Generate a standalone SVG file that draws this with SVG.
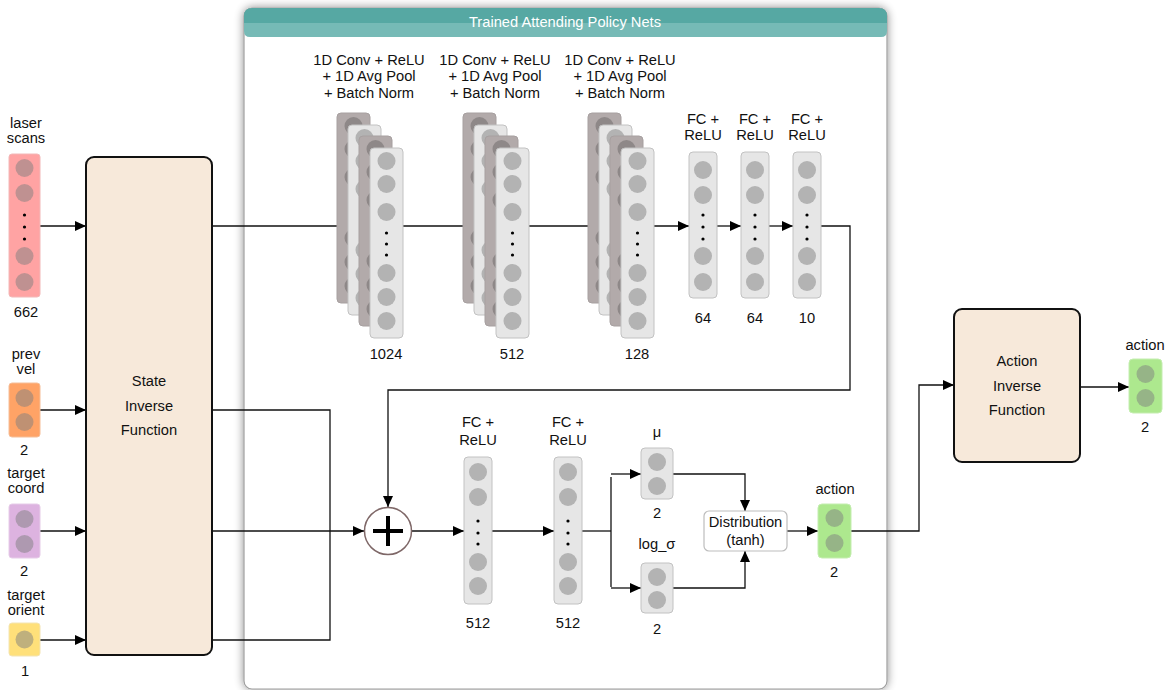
<svg xmlns="http://www.w3.org/2000/svg" xmlns:xlink="http://www.w3.org/1999/xlink" width="1173" height="690" viewBox="0 0 1173 690">
<style>
text{font-family:"Liberation Sans",Arial,sans-serif;font-size:14.7px;fill:#111;text-anchor:middle}
.hdr{fill:#fff;font-size:14.7px}
.ln{fill:none;stroke:#111;stroke-width:1.3}
.fn{fill:#F7E9DA;stroke:#111;stroke-width:2}
.lt{fill:#E6E6E6;stroke:#C2C2C2;stroke-width:1}
.dk{fill:#B2AAAA;stroke:#A7A0A0;stroke-width:1}
.c{fill:#808080;fill-opacity:0.5}
.cd{fill:#8E8888}
.dot{fill:#000}
</style>
<defs>
<marker id="ar" markerUnits="userSpaceOnUse" markerWidth="12" markerHeight="10" refX="11" refY="5" orient="auto">
<path d="M0,0 L11,5 L0,10 Z" fill="#000"/>
</marker>
<filter id="sh" x="-5%" y="-5%" width="110%" height="110%">
<feGaussianBlur in="SourceAlpha" stdDeviation="5"/>
<feComponentTransfer><feFuncA type="linear" slope="0.45"/></feComponentTransfer>
<feMerge><feMergeNode/><feMergeNode in="SourceGraphic"/></feMerge>
</filter>
<g id="ltl">
<rect class="lt" x="0" y="0" width="33" height="190" rx="4"/>
<circle class="c" cx="16.5" cy="13" r="9"/><circle class="c" cx="16.5" cy="36" r="9"/><circle class="c" cx="16.5" cy="64" r="9"/>
<circle class="dot" cx="16.5" cy="85" r="1.6"/><circle class="dot" cx="16.5" cy="96" r="1.6"/><circle class="dot" cx="16.5" cy="107" r="1.6"/>
<circle class="c" cx="16.5" cy="125" r="9"/><circle class="c" cx="16.5" cy="149" r="9"/><circle class="c" cx="16.5" cy="173" r="9"/>
</g>
<g id="dkl">
<rect class="dk" x="0" y="0" width="33" height="190" rx="4"/>
<circle class="cd" cx="16.5" cy="13" r="9"/><circle class="cd" cx="16.5" cy="36" r="9"/><circle class="cd" cx="16.5" cy="64" r="9"/>
<circle class="cd" cx="16.5" cy="125" r="9"/><circle class="cd" cx="16.5" cy="149" r="9"/><circle class="cd" cx="16.5" cy="173" r="9"/>
</g>
<g id="stack">
<use xlink:href="#dkl" x="0" y="0"/>
<use xlink:href="#ltl" x="11" y="12"/>
<use xlink:href="#dkl" x="22" y="23"/>
<use xlink:href="#ltl" x="33" y="35"/>
</g>
<g id="fc">
<rect class="lt" x="0" y="0" width="28" height="146" rx="4"/>
<circle class="c" cx="14" cy="18" r="9"/><circle class="c" cx="14" cy="43" r="9"/>
<circle class="dot" cx="14" cy="63" r="1.6"/><circle class="dot" cx="14" cy="75" r="1.6"/><circle class="dot" cx="14" cy="87" r="1.6"/>
<circle class="c" cx="14" cy="104" r="9"/><circle class="c" cx="14" cy="130" r="9"/>
</g>
</defs>

<!-- container -->
<g id="container">
<rect x="244" y="8" width="643" height="681" rx="8" fill="#fff" stroke="#9E9E9E" stroke-width="1.2" filter="url(#sh)"/>
<path d="M244,37 L244,16 Q244,8 252,8 L879,8 Q887,8 887,16 L887,23 L244,23 Z" fill="#56A8A3"/>
<path d="M244,23 L887,23 L887,31 Q887,37 881,37 L250,37 Q244,37 244,31 Z" fill="#76BAB6"/>
<text class="hdr" x="565" y="27">Trained Attending Policy Nets</text>
</g>

<!-- connectors -->
<g id="connectors">
<path class="ln" d="M40,226 H86" marker-end="url(#ar)"/>
<path class="ln" d="M40,410 H86" marker-end="url(#ar)"/>
<path class="ln" d="M40,531 H86" marker-end="url(#ar)"/>
<path class="ln" d="M40,640 H86" marker-end="url(#ar)"/>
<path class="ln" d="M212,226 H359" marker-end="url(#ar)"/>
<path class="ln" d="M212,410 H330 V640 H212"/>
<path class="ln" d="M212,531 H364" marker-end="url(#ar)"/>
<path class="ln" d="M403,226 H484" marker-end="url(#ar)"/>
<path class="ln" d="M529,226 H609" marker-end="url(#ar)"/>
<path class="ln" d="M654,226 H689" marker-end="url(#ar)"/>
<path class="ln" d="M717,226 H741" marker-end="url(#ar)"/>
<path class="ln" d="M769,226 H793" marker-end="url(#ar)"/>
<path class="ln" d="M821,226 H850 V390 H388 V507" marker-end="url(#ar)"/>
<path class="ln" d="M412,531 H464" marker-end="url(#ar)"/>
<path class="ln" d="M492,531 H554" marker-end="url(#ar)"/>
<path class="ln" d="M582,531 H611"/>
<path class="ln" d="M611,477 V587"/>
<path class="ln" d="M611,474 H641" marker-end="url(#ar)"/>
<path class="ln" d="M611,588 H641" marker-end="url(#ar)"/>
<path class="ln" d="M673,474 H745 V511" marker-end="url(#ar)"/>
<path class="ln" d="M673,588 H745 V551" marker-end="url(#ar)"/>
<path class="ln" d="M787,531 H818" marker-end="url(#ar)"/>
<path class="ln" d="M851,531 H919 V385 H954" marker-end="url(#ar)"/>
<path class="ln" d="M1080,387 H1129" marker-end="url(#ar)"/>
</g>

<!-- inputs -->
<g id="laser-scans">
<text x="26" y="128">laser</text><text x="26" y="143">scans</text>
<rect x="9" y="154" width="31" height="143" rx="3" fill="#FFA3A3" stroke="#F2B8B8"/>
<circle class="c" cx="24.5" cy="168" r="9"/><circle class="c" cx="24.5" cy="193" r="9"/>
<circle class="dot" cx="24.5" cy="215" r="1.6"/><circle class="dot" cx="24.5" cy="227" r="1.6"/><circle class="dot" cx="24.5" cy="239" r="1.6"/>
<circle class="c" cx="24.5" cy="256" r="9"/><circle class="c" cx="24.5" cy="282" r="9"/>
<text x="26" y="317">662</text>
</g>
<g id="prev-vel">
<text x="26" y="359">prev</text><text x="26" y="374">vel</text>
<rect x="9" y="383" width="31" height="54" rx="3" fill="#FFA366" stroke="#F5BE98"/>
<circle class="c" cx="24.5" cy="398" r="9"/><circle class="c" cx="24.5" cy="422" r="9"/>
<text x="24" y="455">2</text>
</g>
<g id="target-coord">
<text x="26" y="478">target</text><text x="26" y="493">coord</text>
<rect x="9" y="504" width="31" height="54" rx="3" fill="#DDB3E0" stroke="#E6CCE8"/>
<circle class="c" cx="24.5" cy="519" r="9"/><circle class="c" cx="24.5" cy="544" r="9"/>
<text x="24" y="576">2</text>
</g>
<g id="target-orient">
<text x="26" y="600">target</text><text x="26" y="615">orient</text>
<rect x="9" y="623" width="31" height="33" rx="3" fill="#FFE07A" stroke="#F3E4B2"/>
<circle class="c" cx="24.5" cy="639.5" r="9"/>
<text x="25" y="676">1</text>
</g>

<g id="state-inverse">
<rect class="fn" x="86" y="157" width="126" height="498" rx="8"/>
<text x="149" y="386">State</text><text x="149" y="411">Inverse</text><text x="149" y="435">Function</text>
</g>

<!-- conv stacks -->
<g id="conv1">
<text x="369" y="65">1D Conv + ReLU</text><text x="369" y="81">+ 1D Avg Pool</text><text x="369" y="98">+ Batch Norm</text>
<use xlink:href="#stack" x="337" y="113"/>
<text x="386" y="359">1024</text>
</g>
<g id="conv2">
<text x="495" y="65">1D Conv + ReLU</text><text x="495" y="81">+ 1D Avg Pool</text><text x="495" y="98">+ Batch Norm</text>
<use xlink:href="#stack" x="463" y="113"/>
<text x="512" y="359">512</text>
</g>
<g id="conv3">
<text x="620" y="65">1D Conv + ReLU</text><text x="620" y="81">+ 1D Avg Pool</text><text x="620" y="98">+ Batch Norm</text>
<use xlink:href="#stack" x="588" y="113"/>
<text x="637" y="359">128</text>
</g>

<g id="fc1">
<text x="703" y="124">FC +</text><text x="703" y="140">ReLU</text>
<use xlink:href="#fc" x="689" y="152"/>
<text x="703" y="323">64</text>
</g>
<g id="fc2">
<text x="755" y="124">FC +</text><text x="755" y="140">ReLU</text>
<use xlink:href="#fc" x="741" y="152"/>
<text x="755" y="323">64</text>
</g>
<g id="fc3">
<text x="807" y="124">FC +</text><text x="807" y="140">ReLU</text>
<use xlink:href="#fc" x="793" y="152"/>
<text x="807" y="323">10</text>
</g>

<g id="plus">
<circle cx="388" cy="531" r="23.5" fill="#fff" stroke="#7E6767" stroke-width="1.5"/>
<path d="M373,531 H403 M388,516 V546" stroke="#000" stroke-width="4"/>
</g>

<g id="fc512a">
<text x="478" y="427">FC +</text><text x="478" y="445">ReLU</text>
<rect class="lt" x="464" y="457" width="28" height="147" rx="4"/>
<circle class="c" cx="478" cy="472" r="9"/><circle class="c" cx="478" cy="497" r="9"/>
<circle class="dot" cx="478" cy="521" r="1.6"/><circle class="dot" cx="478" cy="533" r="1.6"/><circle class="dot" cx="478" cy="544" r="1.6"/>
<circle class="c" cx="478" cy="562" r="9"/><circle class="c" cx="478" cy="586" r="9"/>
<text x="478" y="628">512</text>
</g>
<g id="fc512b">
<text x="568" y="427">FC +</text><text x="568" y="445">ReLU</text>
<rect class="lt" x="554" y="457" width="28" height="147" rx="4"/>
<circle class="c" cx="568" cy="472" r="9"/><circle class="c" cx="568" cy="497" r="9"/>
<circle class="dot" cx="568" cy="521" r="1.6"/><circle class="dot" cx="568" cy="533" r="1.6"/><circle class="dot" cx="568" cy="544" r="1.6"/>
<circle class="c" cx="568" cy="562" r="9"/><circle class="c" cx="568" cy="586" r="9"/>
<text x="568" y="628">512</text>
</g>

<g id="mu">
<text x="657" y="437">μ</text>
<rect class="lt" x="641" y="448" width="32" height="51" rx="4"/>
<circle class="c" cx="657" cy="462" r="9"/><circle class="c" cx="657" cy="486" r="9"/>
<text x="657" y="518">2</text>
</g>
<g id="log-sigma">
<text x="657" y="549">log_σ</text>
<rect class="lt" x="641" y="563" width="32" height="50" rx="4"/>
<circle class="c" cx="657" cy="577" r="9"/><circle class="c" cx="657" cy="600" r="9"/>
<text x="657" y="634">2</text>
</g>

<g id="distribution">
<rect x="704" y="511" width="83" height="40" rx="5" fill="#fff" stroke="#BDBDBD" stroke-width="1.2"/>
<text x="745.5" y="527">Distribution</text><text x="745.5" y="545">(tanh)</text>
</g>

<g id="action-mid">
<text x="835" y="494">action</text>
<rect x="818" y="504" width="33" height="54" rx="4" fill="#ADE88E" stroke="#C4EDB0"/>
<circle class="c" cx="834.5" cy="518" r="9"/><circle class="c" cx="834.5" cy="543" r="9"/>
<text x="834" y="577">2</text>
</g>

<g id="action-inverse">
<rect class="fn" x="954" y="309" width="126" height="153" rx="8"/>
<text x="1017" y="366">Action</text><text x="1017" y="391">Inverse</text><text x="1017" y="415">Function</text>
</g>

<g id="action-out">
<text x="1145" y="350">action</text>
<rect x="1129" y="359" width="33" height="54" rx="4" fill="#ADE88E" stroke="#C4EDB0"/>
<circle class="c" cx="1145.5" cy="374" r="9"/><circle class="c" cx="1145.5" cy="398" r="9"/>
<text x="1145" y="432">2</text>
</g>
</svg>
